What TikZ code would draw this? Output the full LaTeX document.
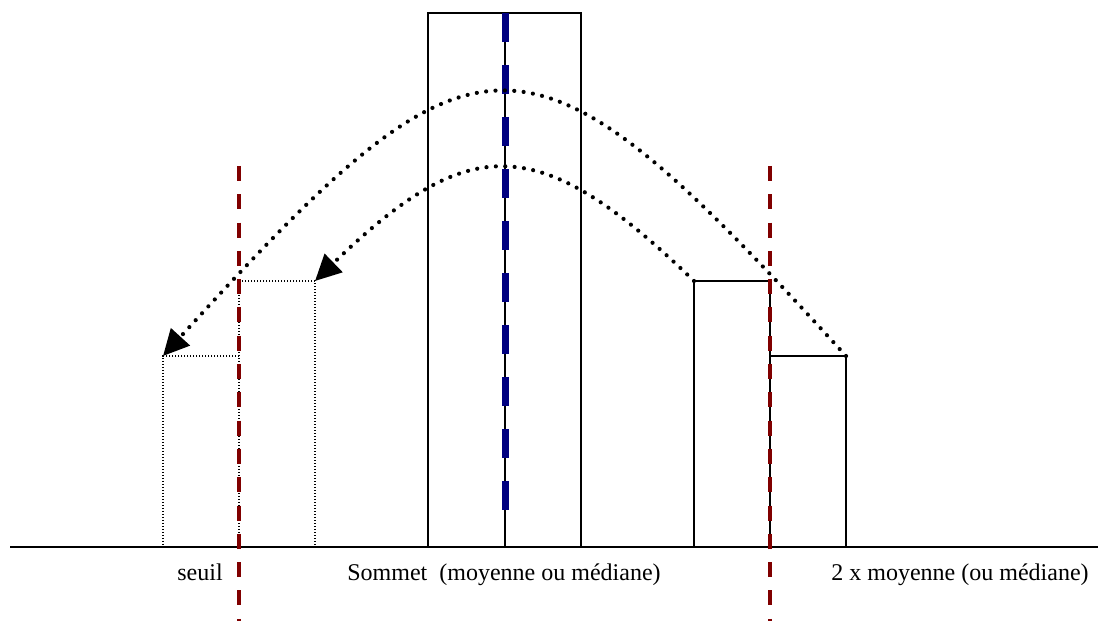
\documentclass[tikz,border=0pt]{standalone}
\usepackage{fontspec}
\setmainfont{Liberation Serif}
\usetikzlibrary{arrows.meta}
\definecolor{seuilrouge}{RGB}{128,0,0}
\definecolor{sommetbleu}{RGB}{0,0,128}

\begin{document}
\begin{tikzpicture}[x=1pt,y=1pt,
    barre/.style={draw, line width=1.7pt, inner sep=0pt, outer sep=0pt, minimum width=76pt, anchor=south west},
    barrepointille/.style={barre, line width=1.2pt, dash pattern=on 1.2pt off 1.8pt},
    limite/.style={seuilrouge, line width=3.3pt, dash pattern=on 15pt off 13.3pt},
    milieu/.style={sommetbleu, line width=7pt, dash pattern=on 29pt off 23pt},
    fleche/.style={line width=4.2pt, line cap=round, dash pattern=on 0pt off 9.4pt, -{Triangle[length=26pt,width=25pt]}},
    etiquette/.style={font=\fontsize{24}{28}\selectfont, inner sep=0pt, anchor=base}]
    \useasboundingbox (0,0) rectangle (1098,621);
    % barres de l'histogramme
    \node[barrepointille, minimum height=191pt] (b1) at (163,74) {};
    \node[barrepointille, minimum height=266pt] (b2) at (239,74) {};
    \node[barre, minimum height=534pt, minimum width=77pt] (b3) at (428,74) {};
    \node[barre, minimum height=534pt] (b4) at (505,74) {};
    \node[barre, minimum height=266pt] (b5) at (694,74) {};
    \node[barre, minimum height=191pt] (b6) at (770,74) {};
    % axe
    \coordinate (g) at (10,74);
    \coordinate (d) at (1098,74);
    \draw[line width=1.7pt] (g) -- (d);
    % seuil et 2 x moyenne
    \coordinate (s1) at (239,455);
    \coordinate (s1b) at (239,0);
    \coordinate (s2) at (770,455);
    \coordinate (s2b) at (770,0);
    \draw[limite] (s1) -- (s1b);
    \draw[limite] (s2) -- (s2b);
    % sommet
    \coordinate (m) at (505,92);
    \draw[milieu] (b4.north west) -- (m);
    % renversement autour du sommet
    \draw[fleche] (b6.north east) .. controls (526,616) and (483,616) .. (b1.north west);
    \draw[fleche] (b5.north west) .. controls (539,490) and (470,490) .. (b2.north east);
    % textes
    \node[etiquette] (seuil) at (200,40) {seuil};
    \node[etiquette] (sommet) at (504,40) {Sommet\ \ (moyenne ou médiane)};
    \node[etiquette] (double) at (960,40) {2 x moyenne (ou médiane)};
\end{tikzpicture}
\end{document}
